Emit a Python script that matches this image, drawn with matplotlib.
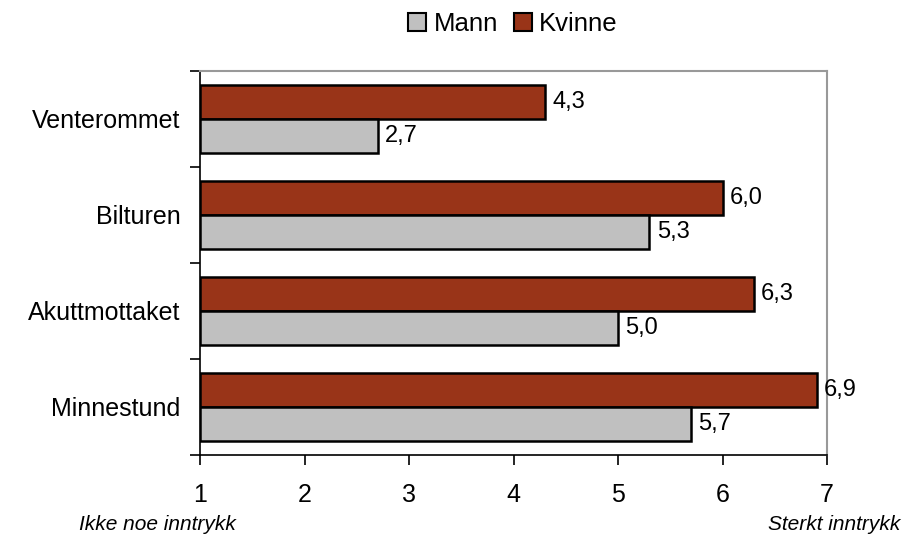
import matplotlib
matplotlib.use("Agg")
import matplotlib.pyplot as plt
import numpy as np
from matplotlib.patches import Patch

categories = ["Venterommet", "Bilturen", "Akuttmottaket", "Minnestund"]
mann = [2.7, 5.3, 5.0, 5.7]
kvinne = [4.3, 6.0, 6.3, 6.9]
xticks = [1, 2, 3, 4, 5, 6, 7]
low_label = "Ikke noe inntrykk"
high_label = "Sterkt inntrykk"

plt.rcParams['font.family'] = ['Liberation Sans', 'DejaVu Sans']

fig = plt.figure(figsize=(9.04, 5.38), dpi=100)
ax = fig.add_axes([200/904, 1-455/538, 627/904, 384/538])

y = np.arange(len(categories))
h = 0.355
base = 1
c_m = "#c0c0c0"
c_k = "#993418"
ax.barh(y - h/2, np.array(kvinne) - base, left=base, height=h, color=c_k, edgecolor="black", linewidth=1.8)
ax.barh(y + h/2, np.array(mann) - base, left=base, height=h, color=c_m, edgecolor="black", linewidth=1.8)

for i in range(len(categories)):
    ax.text(kvinne[i] + 0.07, y[i] - h/2, f"{kvinne[i]:.1f}".replace(".", ","), va="center", ha="left", fontsize=17)
    ax.text(mann[i] + 0.07, y[i] + h/2, f"{mann[i]:.1f}".replace(".", ","), va="center", ha="left", fontsize=17)

ax.set_xlim(1, 7)
ax.set_ylim(len(categories) - 0.5, -0.5)
ax.set_xticks(xticks)
ax.set_xticklabels([str(t) for t in xticks], fontsize=18)
ax.set_yticks(y)
ax.set_yticklabels(categories, fontsize=18)
ax.set_yticks(np.arange(len(categories) + 1) - 0.5, minor=True)
ax.tick_params(axis='y', which='major', length=0, pad=14)
ax.tick_params(axis='y', which='minor', length=7, width=1.2, direction='out')
ax.tick_params(axis='x', length=7, width=1.2, direction='out', pad=13)

for s in ["top", "right"]:
    ax.spines[s].set_color("#999999")
    ax.spines[s].set_linewidth(1.5)
for s in ["left", "bottom"]:
    ax.spines[s].set_color("black")
    ax.spines[s].set_linewidth(1.2)

fig.text(157/904, 1-524/538, low_label, ha="center", va="center", fontsize=15, style="italic")
fig.text(900/904, 1-524/538, high_label, ha="right", va="center", fontsize=15, style="italic")

handles = [Patch(facecolor=c_m, edgecolor="black", linewidth=1.5, label="Mann"),
           Patch(facecolor=c_k, edgecolor="black", linewidth=1.5, label="Kvinne")]
fig.legend(handles=handles, loc="center", bbox_to_anchor=(513/904, 1-24/538), ncol=2, frameon=False,
           fontsize=18.5, handlelength=0.7, handleheight=0.7, handletextpad=0.3, columnspacing=0.6)

fig.savefig("out.png", dpi=100)
